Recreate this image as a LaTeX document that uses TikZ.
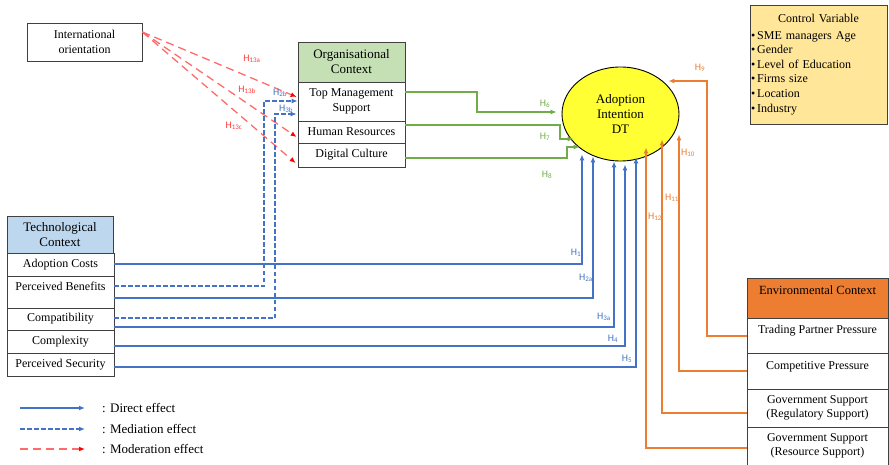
\documentclass[tikz,border=0pt]{standalone}
\usepackage{fontspec}
\setmainfont{Liberation Serif}
\newfontfamily\hfont{Carlito}
\usetikzlibrary{arrows.meta,calc,shapes.geometric}
\definecolor{dirblue}{HTML}{4472C4}
\definecolor{envorange}{HTML}{ED7D31}
\definecolor{orggreen}{HTML}{70AD47}
\definecolor{modred}{HTML}{FF6B6B}
\definecolor{labred}{HTML}{FF3B3B}
\definecolor{orgfill}{HTML}{C5E0B4}
\definecolor{techfill}{HTML}{BDD7EE}
\definecolor{ctrlfill}{HTML}{FFE699}
\definecolor{dtyellow}{HTML}{FFFF33}
\definecolor{boxgray}{HTML}{404040}

\begin{document}
\begin{tikzpicture}[x=1pt, y=-1pt,
    box/.style={draw=boxgray, line width=0.7pt, inner sep=0pt, align=center, font=\fontsize{12}{14.5}\selectfont},
    head/.style={box, font=\fontsize{13}{15}\selectfont},
    lift/.style={text height=8pt, text depth=#1},
    hyp/.style={font=\hfont\fontsize{10}{11}\selectfont, inner sep=0pt},
    legend/.style={anchor=west, inner sep=0pt, font=\fontsize{13}{15}\selectfont},
    arrowhd/.style={-{Latex[length=6pt,width=5pt]}},
    direct/.style={arrowhd, draw=dirblue, line width=1.8pt},
    mediate/.style={arrowhd, draw=dirblue, line width=1.8pt, dash pattern=on 4.5pt off 2.5pt},
    moderate/.style={-{Latex[length=6pt,width=5pt,color=red]}, draw=modred, line width=1.3pt, dash pattern=on 8pt off 5pt},
    orgline/.style={arrowhd, draw=orggreen, line width=1.8pt},
    envline/.style={arrowhd, draw=envorange, line width=2pt}]
    \useasboundingbox (0,0) rectangle (889,465);

    \node[box, minimum width=115, minimum height=38] (io) at (84.5,42) {International\\orientation};

    \node[head, fill=orgfill, minimum width=107, minimum height=40] (org) at (351.5,62) {Organisational\\Context};
    \node[box, minimum width=107, minimum height=39] (tms) at (351.5,101.5) {Top Management\\Support};
    \node[box, minimum width=107, minimum height=22] (hr) at (351.5,132) {Human Resources};
    \node[box, minimum width=107, minimum height=24] (dc) at (351.5,155) {Digital Culture};

    \node[ellipse, draw=black, line width=0.9pt, fill=dtyellow, minimum width=117, minimum height=94, inner sep=0pt,
          align=center, font=\fontsize{13}{15}\selectfont] (dt) at (620.5,114) {Adoption\\Intention\\DT};

    \node[box, fill=ctrlfill, minimum width=137, minimum height=119, text width=135, align=left,
          font=\fontsize{12}{14.6}\selectfont] (cv) at (818.5,64.5)
        {\makebox[\hsize]{Control Variable}\\[2pt]
         \textbullet\,SME managers Age\\
         \textbullet\,Gender\\
         \textbullet\,Level of Education\\
         \textbullet\,Firms size\\
         \textbullet\,Location\\
         \textbullet\,Industry};

    \node[head, fill=techfill, minimum width=106, minimum height=37] (tech) at (60,234.5) {Technological\\Context};
    \node[box, minimum width=107, minimum height=23] (ac) at (60.5,264.5) {Adoption Costs};
    \node[box, lift=11pt, minimum width=107, minimum height=32] (pb) at (60.5,292) {Perceived Benefits};
    \node[box, minimum width=107, minimum height=22] (cp) at (60.5,319) {Compatibility};
    \node[box, minimum width=107, minimum height=23] (cx) at (60.5,341.5) {Complexity};
    \node[box, minimum width=107, minimum height=23] (ps) at (60.5,364.5) {Perceived Security};

    \node[box, font=\fontsize{12.5}{15}\selectfont, fill=envorange, lift=15pt, minimum width=141, minimum height=40] (env) at (817.5,298) {Environmental Context};
    \node[box, lift=12pt, minimum width=141, minimum height=35] (tpp) at (817.5,335.5) {Trading Partner Pressure};
    \node[box, lift=11pt, minimum width=141, minimum height=36] (cpr) at (817.5,371) {Competitive Pressure};
    \node[box, minimum width=141, minimum height=38] (gsr) at (817.5,408) {Government Support\\(Regulatory Support)};
    \node[box, minimum width=141, minimum height=38] (gsa) at (817.5,446) {Government Support\\(Resource Support)};

    \draw[moderate] ($(io.east)+(0,-10)$) -- ($(tms.west)+(-1,-4.5)$);
    \draw[moderate] ($(io.east)+(0,-10)$) -- ($(hr.west)+(-1,5)$);
    \draw[moderate] ($(io.east)+(0,-10)$) -- ($(dc.west)+(-2,8)$);

    \draw[mediate] ($(pb.east)+(0,-6)$) -- ++(150,0) |- ($(tms.west)+(0,-0.5)$);
    \draw[mediate] ($(cp.east)+(0,-1)$) -- ++(161,0) |- ($(tms.west)+(-1,12.5)$);

    \draw[orgline] ($(tms.east)+(0,-9.5)$) -- ++(72,0) |- ($(dt.west)+(-5,-2)$);
    \draw[orgline] ($(hr.east)+(0,-7)$) -- ++(155,0) |- ($(dt.west)+(12,25)$);
    \draw[orgline] ($(dc.east)+(0,3)$) -- ++(162,0) |- ($(dt.west)+(18,33)$);

    \draw[direct] ($(ac.east)+(0,-0.5)$) -| ($(dt.south)+(-38.5,-7)$);
    \draw[direct] ($(pb.east)+(0,6)$) -| ($(dt.south)+(-27.5,-5)$);
    \draw[direct] ($(cp.east)+(0,8)$) -| ($(dt.south)+(-6.5,0)$);
    \draw[direct] ($(cx.east)+(0,4.5)$) -| ($(dt.south)+(4.5,3)$);
    \draw[direct] ($(ps.east)+(0,2.5)$) -| ($(dt.south)+(15.5,-4)$);

    \draw[envline] ($(tpp.west)+(0,0.5)$) -- ++(-40,0) |- ($(dt.east)+(-11,-33)$);
    \draw[envline] (cpr.west) -| ($(dt.south)+(58.5,-27)$);
    \draw[envline] ($(gsr.west)+(0,5)$) -| ($(dt.south)+(41.5,-22)$);
    \draw[envline] ($(gsa.west)+(0,2)$) -| ($(dt.south)+(25.5,-14)$);

    \node[hyp, text=labred] (h13a) at (252,59) {H\textsubscript{13a}};
    \node[hyp, text=labred] (h13b) at (247,90) {H\textsubscript{13b}};
    \node[hyp, text=labred] (h13c) at (234,126) {H\textsubscript{13c}};
    \node[hyp, text=dirblue] (h2b) at (280,93) {H\textsubscript{2b}};
    \node[hyp, text=dirblue] (h3b) at (286,109) {H\textsubscript{3b}};
    \node[hyp, text=orggreen] (h6) at (545,104) {H\textsubscript{6}};
    \node[hyp, text=orggreen] (h7) at (545,137) {H\textsubscript{7}};
    \node[hyp, text=orggreen] (h8) at (547,175) {H\textsubscript{8}};
    \node[hyp, text=dirblue] (h1) at (576,253) {H\textsubscript{1}};
    \node[hyp, text=dirblue] (h2a) at (586,278) {H\textsubscript{2a}};
    \node[hyp, text=dirblue] (h3a) at (604,317) {H\textsubscript{3a}};
    \node[hyp, text=dirblue] (h4) at (613,339) {H\textsubscript{4}};
    \node[hyp, text=dirblue] (h5) at (627,359) {H\textsubscript{5}};
    \node[hyp, text=envorange] (h9) at (700,68) {H\textsubscript{9}};
    \node[hyp, text=envorange] (h10) at (688,153) {H\textsubscript{10}};
    \node[hyp, text=envorange] (h11) at (672,198) {H\textsubscript{11}};
    \node[hyp, text=envorange] (h12) at (655,217) {H\textsubscript{12}};

    \node[legend] (ldir) at (102,408) {: Direct effect};
    \node[legend] (lmed) at (102,429) {: Mediation effect};
    \node[legend] (lmod) at (102,449) {: Moderation effect};
    \draw[direct] ($(ldir.west)+(-82,0)$) -- ($(ldir.west)+(-17,0)$);
    \draw[mediate] ($(lmed.west)+(-82,0)$) -- ($(lmed.west)+(-17,0)$);
    \draw[moderate] ($(lmod.west)+(-82,0)$) -- ($(lmod.west)+(-17,0)$);
\end{tikzpicture}
\end{document}
